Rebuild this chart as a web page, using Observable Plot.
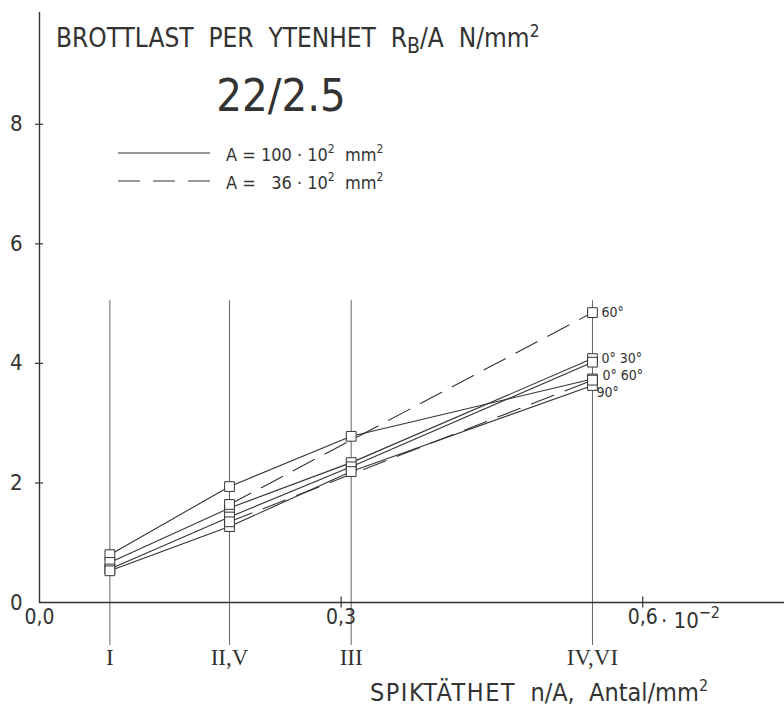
<!DOCTYPE html>
<html><head><meta charset="utf-8">
<script src="https://cdn.jsdelivr.net/npm/d3@7"></script>
<script src="https://cdn.jsdelivr.net/npm/@observablehq/plot@0.6"></script>
<style>
body{margin:0;background:#fff;}
#chart svg{display:block;}
</style></head><body><div id="chart"></div>
<script>
// ---- data ----
const categories = ["I", "II,V", "III", "IV,VI"];
const density = [0.07, 0.189, 0.31, 0.55];          // n/A · 10^-2 per mm²
const xTicks = [0, 0.3, 0.6];
const xTickLabels = ["0,0", "0,3", "0,6"];
const yTicks = [0, 2, 4, 6, 8];
// A = 100·10² mm² (solid)
const solid60 = [0.80, 1.94, 2.78, 3.74];
const solid0  = [0.67, 1.58, 2.34, 4.08];
const solid30 = [0.56, 1.43, 2.27, 4.02];
const solid90 = [0.53, 1.27, 2.19, 3.63];
// A = 36·10² mm² (dashed) – only tests V and VI
const dashed60 = [null, 1.64, null, 4.85];
const dashed0  = [null, 1.35, null, 3.72];
const endLabels = ["60°", "0° 30°", "0° 60°", "90°"];
const endLabelValues = [4.85, 4.08, 3.79, 3.52];
const endLabelShift = [9, 9, 10, 4];

// ---- build tables ----
function rowsOf(name, vals) {
  return vals.map((v, i) => ({series: name, x: density[i], y: v})).filter(d => d.y != null);
}
const solidRows = [
  ...rowsOf("60", solid60), ...rowsOf("0", solid0), ...rowsOf("30", solid30), ...rowsOf("90", solid90)
];
const dashedRows = [...rowsOf("d60", dashed60), ...rowsOf("d0", dashed0)];
const labelRows = endLabels.map((t, i) => ({text: t, x: density[3], y: endLabelValues[i], dx: endLabelShift[i]}));

const SANS = "'DejaVu Sans Condensed','DejaVu Sans',sans-serif";
const SERIF = "'Liberation Serif','DejaVu Serif',serif";
const INK = "#333";

const chart = Plot.plot({
  width: 784, height: 706,
  marginLeft: 39, marginRight: 0, marginTop: 12, marginBottom: 104,
  x: {domain: [0, 0.741]},
  y: {domain: [0, 9.87]},
  style: {fontFamily: SANS, color: INK, background: "#fff"},
  marks: [
    Plot.ruleX(density, {y1: -0.72, y2: 5.05, stroke: "#555", strokeWidth: 0.9}),
    Plot.ruleX([0], {stroke: INK, strokeWidth: 1.4}),
    Plot.ruleY([0], {stroke: INK, strokeWidth: 1.4}),
    Plot.ruleY(yTicks.slice(1), {y: d => d, x1: -0.004, x2: 0.004, stroke: INK, strokeWidth: 1.2}),
    Plot.ruleX(xTicks.slice(1), {x: d => d, y1: -0.09, y2: 0.09, stroke: INK, strokeWidth: 1.2}),
    Plot.axisY({ticks: yTicks, tickSize: 0, tickPadding: 17, fontSize: 22, label: null}),
    Plot.axisX({ticks: xTicks, tickSize: 0, tickPadding: 7, fontSize: 21, label: null,
      tickFormat: d => xTickLabels[xTicks.indexOf(d)]}),
    Plot.axisX({ticks: density, tickSize: 0, tickPadding: 46, fontSize: 23, fontFamily: SERIF, label: null,
      tickFormat: d => categories[density.indexOf(d)]}),
    Plot.line(solidRows, {x: "x", y: "y", z: "series", stroke: INK, strokeWidth: 1.1}),
    Plot.line(dashedRows, {x: "x", y: "y", z: "series", stroke: INK, strokeWidth: 1.1, strokeDasharray: "24,12"}),
    Plot.dot([...solidRows, ...dashedRows], {x: "x", y: "y", symbol: "square", r: 5.5, fill: "white", stroke: INK, strokeWidth: 1}),
    ...labelRows.map(d => Plot.text([d], {x: "x", y: "y", text: "text", textAnchor: "start", dx: d.dx, fontSize: 14, fill: INK}))
  ]
});
document.getElementById("chart").appendChild(chart);

// ---- titles & legend (text with sub/superscripts) ----
const svg = d3.select(chart);
const g = svg.append("g").attr("fill", INK).attr("text-anchor", "start")
  .style("font-family", SANS).style("white-space", "pre");

const yt = g.append("text").attr("x", 56).attr("y", 47).attr("font-size", 26);
yt.append("tspan").text("BROTTLAST  PER  YTENHET  R");
yt.append("tspan").attr("dy", 6).attr("font-size", 21).text("B");
yt.append("tspan").attr("dy", -6).text("/A  N/mm");
yt.append("tspan").attr("dy", -10).attr("font-size", 17).text("2");

g.append("text").attr("x", 281).attr("y", 111).attr("text-anchor", "middle")
  .attr("font-size", 45).text("22/2.5");

svg.append("line").attr("x1", 118).attr("x2", 210).attr("y1", 153).attr("y2", 153)
  .attr("stroke", INK).attr("stroke-width", 1.1);
svg.append("line").attr("x1", 118).attr("x2", 210).attr("y1", 181).attr("y2", 181)
  .attr("stroke", INK).attr("stroke-width", 1.1).attr("stroke-dasharray", "22,13");

function legendText(y, num) {
  const t = g.append("text").attr("x", 226).attr("y", y).attr("font-size", 18);
  t.append("tspan").text("A = " + num + " · 10");
  t.append("tspan").attr("dy", -8).attr("font-size", 12).text("2");
  t.append("tspan").attr("dy", 8).text("  mm");
  t.append("tspan").attr("dy", -8).attr("font-size", 12).text("2");
}
legendText(161, "100");
legendText(189, "  36");

const sup = g.append("text").attr("x", 661).attr("y", 628).attr("font-size", 22);
sup.append("tspan").text("· 10");
sup.append("tspan").attr("dy", -10).attr("font-size", 16).text("−2");

const xt = g.append("text").attr("x", 370).attr("y", 701).attr("font-size", 25);
xt.append("tspan").attr("letter-spacing", 1.5).text("SPIKTÄTHET");
xt.append("tspan").text("  n/A,  Antal/mm");
xt.append("tspan").attr("dy", -10).attr("font-size", 16).text("2");
</script></body></html>
